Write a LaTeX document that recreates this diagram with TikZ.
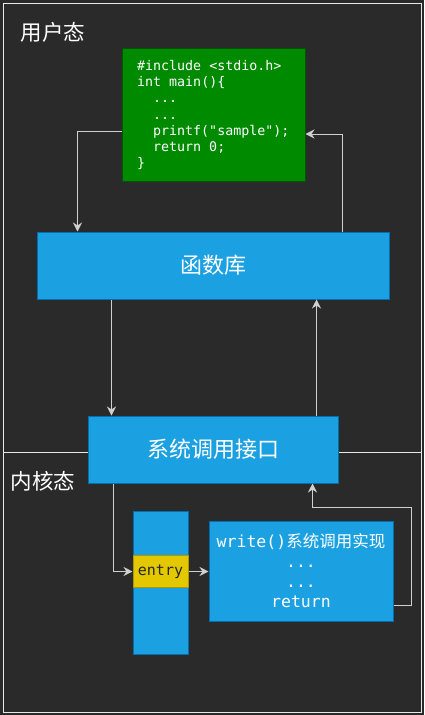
\documentclass[tikz,border=0pt]{standalone}
\usepackage{fontspec}
\setmonofont{DejaVu Sans Mono}
\newfontfamily\cjk{Noto Sans CJK SC}
\usetikzlibrary{arrows.meta,positioning,calc}
\definecolor{bg}{HTML}{2A2A2A}
\definecolor{blueF}{HTML}{1BA1E2}
\definecolor{blueD}{HTML}{006EAF}
\definecolor{greenF}{HTML}{008A00}
\definecolor{greenD}{HTML}{005700}
\definecolor{yelF}{HTML}{E3C800}
\definecolor{yelD}{HTML}{B09500}
\definecolor{lineC}{HTML}{E8E8E8}
\definecolor{arrC}{HTML}{D0D0D0}
\tikzset{
  bluebox/.style={draw=blueD,fill=blueF,line width=1pt,inner sep=0pt,text=white},
  arr/.style={draw=arrC,line width=1pt,-{Stealth[length=9pt,width=9pt,inset=3pt]}},
  zonelabel/.style={text=white,font=\cjk\fontsize{21.5}{24}\selectfont,inner sep=0pt},
}
\begin{document}
\begin{tikzpicture}[x=1pt,y=-1pt]
\fill[bg] (0,0) rectangle (424,715);
\useasboundingbox (0,0) rectangle (424,715);
\draw[lineC,line width=1pt] (3,3) rectangle (421,712);
\draw[lineC,line width=1pt] (3,452) -- (421,452);
\node[zonelabel] (user) at (53,32) {用户态};
\node[zonelabel] (kern) at (43,481) {内核态};
% code box
\node[draw=greenD,fill=greenF,line width=1pt,minimum width=183pt,minimum height=133pt,inner sep=0pt] (code) at (213.5,114.5) {};
\node[anchor=west,align=left,inner sep=0pt,text=white,font=\ttfamily\fontsize{13.3}{16.2}\selectfont] (codetxt) at (137,115)
{\#include <stdio.h>\\int main()\{\\\hspace*{16pt}...\\\hspace*{16pt}...\\\hspace*{16pt}printf("sample");\\\hspace*{16pt}return 0;\\\}};
% library
\node[bluebox,minimum width=352pt,minimum height=67pt,font=\cjk\fontsize{22}{24}\selectfont] (lib) at (213,265.5) {函数库};
% syscall interface
\node[bluebox,minimum width=250pt,minimum height=67pt,font=\cjk\fontsize{22}{24}\selectfont] (sci) at (213,449.5) {系统调用接口};
% entry column
\node[bluebox,minimum width=55pt,minimum height=143pt] (col) at (160.5,582.5) {};
\node[draw=yelD,fill=yelF,line width=1pt,minimum width=55pt,minimum height=32pt,inner sep=0pt,text=black!85,font=\ttfamily\fontsize{15}{18}\selectfont] (entry) at (160.5,571.5) {entry};
% implementation
\node[bluebox,minimum width=184pt,minimum height=100pt,align=center,font=\fontsize{16.5}{20}\selectfont] (impl) at (301,571)
{{\ttfamily write()}{\cjk 系统调用实现}\\{\ttfamily ...}\\{\ttfamily ...}\\{\ttfamily return}};
% arrows
\draw[arr] ([yshift=-16.5pt]code.west) -| ([xshift=41pt]lib.north west);
\draw[arr] ([xshift=-47pt]lib.north east) |- ([yshift=-19.5pt]code.east);
\draw[arr] ([xshift=75pt]lib.south west) -- ([xshift=24pt]sci.north west);
\draw[arr] ([xshift=-22pt]sci.north east) -- ([xshift=-73pt]lib.south east);
\draw[arr] ([xshift=26pt]sci.south west) |- (entry.west);
\draw[arr] (entry.east) -- (entry.east -| impl.west);
\draw[arr] ([yshift=-34pt]impl.east) -- ++(18,0) |- ([xshift=-26pt,yshift=-24pt]sci.south east) -- ([xshift=-26pt]sci.south east);
\end{tikzpicture}
\end{document}
